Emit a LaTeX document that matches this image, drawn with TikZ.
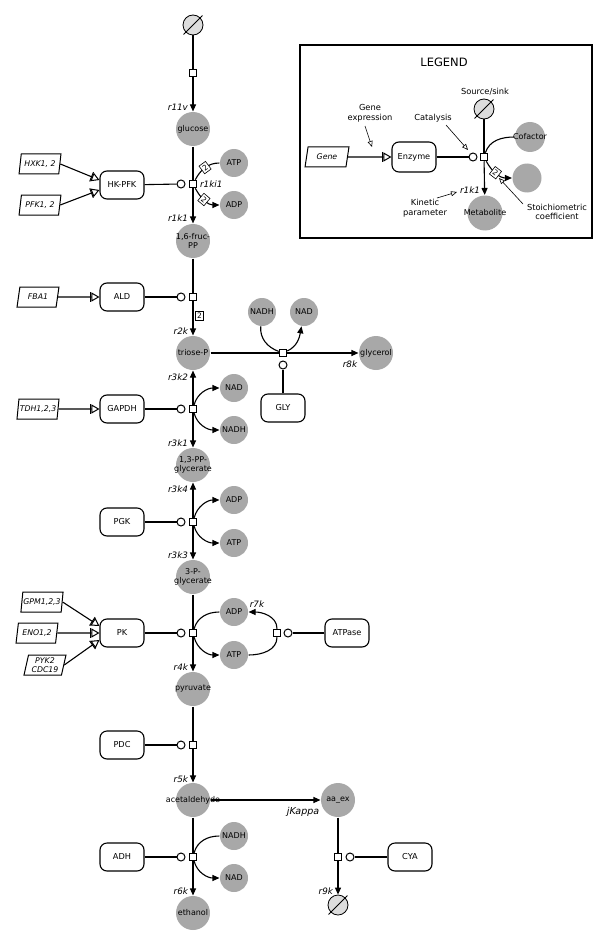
\documentclass[tikz,border=0pt]{standalone}
\usepackage{fontspec}
\setmainfont{DejaVu Sans}
\usetikzlibrary{arrows.meta,shapes.geometric,calc}
\definecolor{metgray}{RGB}{168,168,168}
\definecolor{sinkgray}{RGB}{221,221,221}
\tikzset{
  met/.style={circle, fill=metgray, minimum size=34pt, inner sep=-14pt, align=center, font=\fontsize{8}{9}\selectfont},
  cof/.style={met, minimum size=28pt},
  enz/.style={draw, rounded corners=7pt, minimum width=44pt, minimum height=28pt, inner sep=1pt, fill=white, line width=1.1pt, font=\fontsize{8.2}{9}\selectfont},
  gene/.style={draw, trapezium, trapezium left angle=76, trapezium right angle=104, trapezium stretches=true, minimum width=42pt, minimum height=20pt, inner sep=0.5pt, font=\itshape\fontsize{7.8}{8.4}\selectfont, line width=1pt, align=center},
  rxn/.style={draw, rectangle, fill=white, minimum size=7.5pt, inner sep=0pt, line width=1pt},
  cat/.style={draw, circle, fill=white, minimum size=8pt, inner sep=0pt, line width=1pt},
  sinknode/.style={draw, circle, fill=sinkgray, minimum size=20pt, inner sep=0pt, line width=0.8pt},
  slash/.style={line width=0.8pt, shorten <=-3pt, shorten >=-3pt},
  kin/.style={font=\itshape\fontsize{8.8}{9}\selectfont, inner sep=0.5pt},
  stoich/.style={draw, fill=white, font=\fontsize{7.5}{7.5}\selectfont, inner sep=0.6pt, line width=0.6pt, minimum width=8pt, minimum height=9.5pt},
  flux/.style={-{Triangle[length=7pt,width=6pt]}},
  expr/.style={-{Bar[width=10pt,line width=1pt]Triangle[open,length=8pt,width=9pt,line width=1pt]}},
  note/.style={font=\fontsize{8.3}{9.8}\selectfont, align=center, inner sep=0.5pt},
  ann/.style={line width=0.6pt, -{Triangle[open,length=6pt,width=5pt]}},
}
\begin{document}
\begin{tikzpicture}[x=1pt, y=1pt, line width=1.1pt]
\useasboundingbox (0,0) rectangle (600,-944);

% ---------- top: glucose / HK-PFK ----------
\node[sinknode] (s0) at (193,-25) {};
\draw[slash] (s0.225) -- (s0.45);
\node[rxn] (q0) at (193,-73) {};
\node[met] (glucose) at (193,-129) {glucose};
\draw (s0) -- (q0);
\draw[flux] (q0) -- (glucose);
\node[kin, anchor=east] (k11v) at (189,-107) {r11v};

\node[rxn] (q1) at (193,-184) {};
\node[cat] (c1) at (181,-184) {};
\node[enz] (hk) at (122,-185) {HK-PFK};
\node[gene] (hxk) at (40,-164) {HXK1, 2};
\node[gene] (pfk) at (40,-205) {PFK1, 2};
\node[cof] (atp1) at (234,-163) {ATP};
\node[cof] (adp1) at (234,-205) {ADP};
\node[met] (fruc) at (193,-241) {1,6-fruc-\\PP};
\draw (glucose) -- (q1);
\draw[flux] (q1) -- (fruc);
\draw (hk) -- (c1);
\draw[expr] (hxk.east) -- ([yshift=5pt]hk.west);
\draw[expr] (pfk.east) -- ([yshift=-5pt]hk.west);
\draw (atp1) to[out=180,in=62] node[stoich,sloped,pos=0.5]{2} (q1);
\draw[flux] (q1) to[out=-62,in=180] node[stoich,sloped,pos=0.45]{2} (adp1);
\node[kin, anchor=west] (k1ki1) at (199,-184) {r1ki1};
\node[kin, anchor=east] (k1k1) at (189,-218) {r1k1};

% ---------- ALD ----------
\node[rxn] (q2) at (193,-297) {};
\node[cat] (c2) at (181,-297) {};
\node[enz] (ald) at (122,-297) {ALD};
\node[gene] (fba) at (38,-297) {FBA1};
\node[met] (triose) at (193,-353) {triose-P};
\draw (fruc) -- (q2);
\draw[flux] (q2) -- (triose);
\draw (ald) -- (c2);
\draw[expr] (fba) -- (ald);
\node[stoich] (st2) at (199.5,-316) {2};
\node[kin, anchor=east] (k2k) at (189,-331) {r2k};

% ---------- glycerol branch ----------
\node[rxn] (q8) at (283,-353) {};
\node[cat] (c8) at (283,-365) {};
\node[enz] (gly) at (283,-408) {GLY};
\node[cof] (nadh8) at (262,-312) {NADH};
\node[cof] (nad8) at (304,-312) {NAD};
\node[met] (glycerol) at (376,-353) {glycerol};
\draw (triose) -- (q8);
\draw[flux] (q8) -- (glycerol);
\draw (gly) -- (c8);
\draw (nadh8) to[out=-95,in=160] (q8);
\draw[flux] (q8) to[out=25,in=-100] (nad8);
\node[kin] (k8k) at (350,-364) {r8k};

% ---------- GAPDH ----------
\node[rxn] (q3) at (193,-409) {};
\node[cat] (c3) at (181,-409) {};
\node[enz] (gapdh) at (122,-409) {GAPDH};
\node[gene] (tdh) at (38,-409) {TDH1,2,3};
\node[cof] (nad3) at (234,-388) {NAD};
\node[cof] (nadh3) at (234,-430) {NADH};
\node[met] (pp13) at (193,-465) {1,3-PP-\\glycerate};
\draw[flux] (q3) -- (triose);
\draw[flux] (q3) -- (pp13);
\draw (gapdh) -- (c3);
\draw[expr] (tdh) -- (gapdh);
\draw[flux] (q3) to[out=75,in=180] (nad3);
\draw[flux] (q3) to[out=-75,in=180] (nadh3);
\node[kin, anchor=east] (k3k2) at (189,-377) {r3k2};
\node[kin, anchor=east] (k3k1) at (189,-443) {r3k1};

% ---------- PGK ----------
\node[rxn] (q4) at (193,-522) {};
\node[cat] (c4) at (181,-522) {};
\node[enz] (pgk) at (122,-522) {PGK};
\node[cof] (adp4) at (234,-500) {ADP};
\node[cof] (atp4) at (234,-543) {ATP};
\node[met] (pg3) at (193,-577) {3-P-\\glycerate};
\draw[flux] (q4) -- (pp13);
\draw[flux] (q4) -- (pg3);
\draw (pgk) -- (c4);
\draw[flux] (q4) to[out=75,in=180] (adp4);
\draw[flux] (q4) to[out=-75,in=180] (atp4);
\node[kin, anchor=east] (k3k4) at (189,-489) {r3k4};
\node[kin, anchor=east] (k3k3) at (189,-555) {r3k3};

% ---------- PK ----------
\node[rxn] (q5) at (193,-633) {};
\node[cat] (c5) at (181,-633) {};
\node[enz] (pk) at (122,-633) {PK};
\node[gene] (gpm) at (42,-602) {GPM1,2,3};
\node[gene] (eno) at (37,-633) {ENO1,2};
\node[gene] (pyk) at (45,-665) {PYK2\\CDC19};
\node[cof] (adp5) at (234,-612) {ADP};
\node[cof] (atp5) at (234,-655) {ATP};
\node[rxn] (q7) at (277,-633) {};
\node[cat] (c7) at (288,-633) {};
\node[enz] (atpase) at (347,-633) {ATPase};
\node[met] (pyr) at (193,-689) {pyruvate};
\draw (pg3) -- (q5);
\draw[flux] (q5) -- (pyr);
\draw (pk) -- (c5);
\draw[expr] (gpm.east) -- ([yshift=7pt]pk.west);
\draw[expr] (eno.east) -- (pk.west);
\draw[expr] (pyk.east) -- ([yshift=-7pt]pk.west);
\draw (adp5) to[out=180,in=75] (q5);
\draw[flux] (q5) to[out=-75,in=180] (atp5);
\draw (atp5) to[out=0,in=-90] (q7);
\draw[flux] (q7) to[out=90,in=0] (adp5);
\draw (atpase) -- (c7);
\node[kin] (k7k) at (257,-604) {r7k};
\node[kin, anchor=east] (k4k) at (189,-667) {r4k};

% ---------- PDC ----------
\node[rxn] (q6) at (193,-745) {};
\node[cat] (c6) at (181,-745) {};
\node[enz] (pdc) at (122,-745) {PDC};
\node[met] (acet) at (193,-800) {acetaldehyde};
\draw (pyr) -- (q6);
\draw[flux] (q6) -- (acet);
\draw (pdc) -- (c6);
\node[kin, anchor=east] (k5k) at (189,-779) {r5k};

% ---------- acetaldehyde export ----------
\node[met] (aaex) at (338,-800) {aa\_ex};
\draw[flux] (acet) -- (aaex);
\node[kin, font=\itshape\fontsize{9.5}{10}\selectfont] (kjk) at (303,-812) {jKappa};
\node[rxn] (q10) at (338,-857) {};
\node[cat] (c10) at (350,-857) {};
\node[enz] (cya) at (410,-857) {CYA};
\node[sinknode] (s1) at (338,-905) {};
\draw[slash] (s1.225) -- (s1.45);
\draw (aaex) -- (q10);
\draw[flux] (q10) -- (s1);
\draw (cya) -- (c10);
\node[kin, anchor=east] (k9k) at (334,-891) {r9k};

% ---------- ADH ----------
\node[rxn] (q9) at (193,-857) {};
\node[cat] (c9) at (181,-857) {};
\node[enz] (adh) at (122,-857) {ADH};
\node[cof] (nadh9) at (234,-836) {NADH};
\node[cof] (nad9) at (234,-878) {NAD};
\node[met] (eth) at (193,-913) {ethanol};
\draw (acet) -- (q9);
\draw[flux] (q9) -- (eth);
\draw (adh) -- (c9);
\draw (nadh9) to[out=180,in=75] (q9);
\draw[flux] (q9) to[out=-75,in=180] (nad9);
\node[kin, anchor=east] (k6k) at (189,-891) {r6k};

% ---------- LEGEND ----------
\draw[line width=1.3pt] (300,-45) rectangle (592,-238);
\node[font=\fontsize{11.5}{12}\selectfont] (ltitle) at (444,-62) {LEGEND};
\node[gene, minimum width=44pt] (lgene) at (327,-157) {Gene};
\node[enz, minimum height=30pt] (lenz) at (414,-157) {Enzyme};
\node[cat] (lc) at (473,-157) {};
\node[rxn] (lq) at (484,-157) {};
\node[sinknode] (lsink) at (484,-109) {};
\draw[slash] (lsink.225) -- (lsink.45);
\node[note] (lsinkl) at (485,-92) {Source/sink};
\node[met, minimum size=30pt] (lcof) at (530,-137) {Cofactor};
\node[met, minimum size=29pt, inner sep=0pt] (lout) at (527,-178) {};
\node[met, minimum size=35pt] (lmet) at (485,-213) {Metabolite};
\draw[expr] (lgene) -- (lenz);
\draw (lenz) -- (lc);
\draw (lsink) -- (lq);
\draw[flux] (lq) -- (lmet);
\draw (lcof) to[out=180,in=72] (lq);
\draw[flux] (lq) to[out=-62,in=180] node[stoich,sloped,pos=0.45]{2} (lout);
\node[kin, anchor=east] (lk) at (481,-190) {r1k1};

\node[note] (lexpr) at (370,-113) {Gene\\expression};
\node[note] (lcat) at (433,-118) {Catalysis};
\node[note] (lkin) at (425,-208) {Kinetic\\parameter};
\node[note] (lsto) at (557,-212) {Stoichiometric\\coefficient};
\coordinate (aexpr0) at (365,-126);
\coordinate (aexpr1) at (372,-147);
\coordinate (acat0) at (446,-125);
\coordinate (acat1) at (468,-150);
\coordinate (akin0) at (437,-198);
\coordinate (akin1) at (457,-192);
\coordinate (asto0) at (523,-204);
\coordinate (asto1) at (499,-178);
\draw[ann] (aexpr0) -- (aexpr1);
\draw[ann] (acat0) -- (acat1);
\draw[ann] (akin0) -- (akin1);
\draw[ann] (asto0) -- (asto1);
\end{tikzpicture}
\end{document}
